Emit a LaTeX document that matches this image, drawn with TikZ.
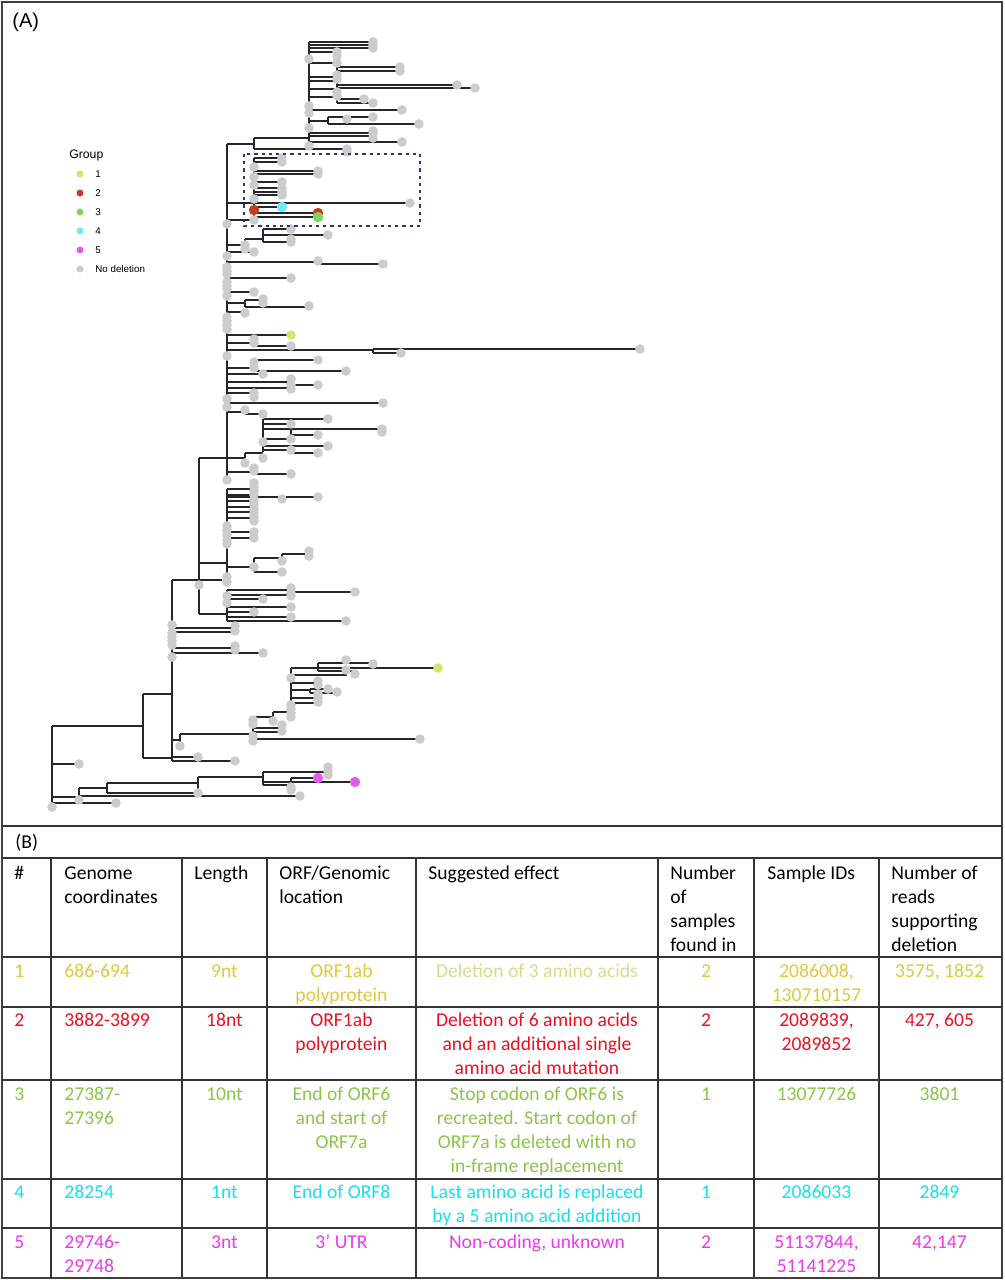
\documentclass[tikz,border=0pt]{standalone}
\usepackage{fontspec}
\setmainfont{Carlito}
\newfontfamily\arialfont{Liberation Sans}
\usetikzlibrary{positioning}

\definecolor{grpone}{RGB}{218,226,110}
\definecolor{grptwo}{RGB}{198,60,35}
\definecolor{grpthree}{RGB}{128,212,92}
\definecolor{grpfour}{RGB}{112,232,246}
\definecolor{grpfive}{RGB}{226,92,236}
\definecolor{nodel}{RGB}{204,204,204}
\definecolor{boxblue}{RGB}{30,58,120}
\definecolor{txtone}{RGB}{222,200,62}
\definecolor{txtonelt}{RGB}{214,220,140}
\definecolor{txttwo}{RGB}{232,18,30}
\definecolor{txtthree}{RGB}{140,196,74}
\definecolor{txtfour}{RGB}{24,222,238}
\definecolor{txtfive}{RGB}{238,56,238}

\newcommand{\tabfont}{\fontsize{9.8pt}{12pt}\selectfont}

\begin{document}
\begin{tikzpicture}[x=0.5pt,y=-0.5pt,
  branch/.style={line width=0.7pt,black!85},
  tipdot/.style={fill=nodel},
  rule/.style={line width=0.75pt,black!80},
  cellL/.style={anchor=base west,inner sep=0pt,align=left,font=\tabfont},
  cellC/.style={anchor=base,inner sep=0pt,align=center,font=\tabfont}]

\useasboundingbox (0,0) rectangle (1005,1280) ;

% panel A : tree
\foreach \y/\a/\b in {42/309/373,45/309/373,48/309/373,52/309/337,63/309/337,77/309/337,81/309/337,89/309/337,97/309/337,
  67/337/400,71/337/400,85/337/457,88/337/475,99/337/364,103/337/373,
  110/309/402,121/309/328,117/328/373,124/328/419,133/309/373,136/309/373,142/309/402,
  138/254/309,149/254/347,144/227/254,
  158/254/282,162/254/282,171/254/318,174/254/318,182/254/282,188/254/282,192/254/282,195/254/282,
  203/227/410,207/254/282,213/254/318,217/254/318,220/227/254,
  239/245/263,229/263/291,235/263/328,242/263/291,245/227/245,252/227/254,262/227/318,264/318/383,
  278/227/291,292/227/254,303/227/245,300/245/263,307/245/309,312/227/245,335/227/291,
  343/227/254,346/254/291,350/227/373,349/373/640,353/373/401,368/227/254,360/254/318,371/254/346,
  374/227/263,382/227/291,385/291/318,388/227/291,393/227/254,403/227/383,412/227/245,414/245/263,
  419/263/328,424/263/291,429/263/382,435/291/318,439/263/291,446/263/328,450/263/291,453/291/318,
  453/245/263,458/199/245,472/227/254,474/254/291,
  489/227/254,495/227/254,497/227/318,501/227/254,507/227/254,512/227/254,518/227/254,532/227/254,
  538/227/254,563/199/227,567/227/254,558/254/282,554/282/309,572/254/282,580/172/222,
  590/227/291,592/291/355,595/227/291,599/227/263,607/227/291,612/227/254,614/199/227,617/227/291,621/227/346,
  628/172/235,632/172/235,648/172/235,653/172/263,694/143/172,740/172/180,734/180/253,717/253/273,712/273/291,
  728/253/282,732/253/282,739/253/420,
  668/291/318,663/318/373,668/318/438,671/318/355,675/291/347,683/291/318,690/291/310,689/310/328,693/310/337,
  698/291/318,703/291/318,
  758/143/172,757/172/198,761/172/235,726/52/143,
  764/52/79,797/52/79,788/79/107,783/107/198,777/198/263,772/263/328,782/263/291,778/291/318,782/291/355,
  785/263/291,793/107/198,796/79/300,803/52/116}
  \draw[branch] (\a,\y) -- (\b,\y) ;

\foreach \x/\a/\b in {309/42/146,337/52/103,328/117/124,254/138/149,227/144/480,254/158/220,245/239/245,
  263/229/242,318/262/264,245/300/307,254/343/346,373/349/353,254/360/371,291/382/385,245/412/414,
  263/419/452,291/429/435,291/450/453,245/453/458,254/472/474,199/458/614,227/489/582,254/558/572,
  282/554/558,227/590/621,172/580/761,143/694/758,180/734/746,253/717/743,273/712/717,291/668/712,
  318/663/671,310/689/693,52/726/807,79/788/800,107/783/793,198/777/797,263/772/785,291/778/782}
  \draw[branch] (\x,\a) -- (\x,\b) ;

\foreach \x/\y in {373/42,373/45,373/48,337/52,337/56,309/59,337/63,400/67,400/71,337/75,337/79,457/85,475/88,
  337/92,337/96,364/99,373/103,309/106,402/110,309/113,373/117,347/119,419/124,309/128,373/131,373/134,
  373/138,402/142,309/146,347/149,347/152,
  282/158,282/162,254/167,318/171,318/174,254/177,282/182,254/185,282/188,282/192,282/195,254/199,
  410/203,254/220,227/224,
  291/229,328/235,291/239,291/242,245/245,245/249,254/252,227/256,318/261,383/264,227/267,227/271,
  227/274,291/278,227/282,227/286,227/289,254/292,227/296,263/299,263/303,309/306,245/313,227/317,
  227/321,227/325,227/329,254/339,254/343,291/346,640/349,401/353,227/356,318/360,254/362,254/368,
  346/371,263/374,291/379,291/385,318/385,291/389,254/393,254/397,227/399,383/403,227/407,245/410,263/414,
  328/419,291/424,382/429,382/432,318/435,291/439,263/442,328/446,291/450,318/453,263/458,245/463,
  254/468,254/471,291/474,227/480,
  254/483,254/487,254/491,254/495,282/499,318/497,254/501,254/505,254/509,254/513,254/517,254/521,
  227/526,227/530,254/532,227/535,254/538,227/540,227/544,
  309/551,309/556,282/561,254/567,282/572,227/577,227/582,199/585,
  291/588,291/593,355/592,227/596,291/596,263/599,227/603,291/607,254/612,291/617,346/621,
  172/625,235/626,235/631,172/633,172/637,172/641,172/645,235/646,235/650,263/653,172/657,
  346/660,373/664,346/670,355/674,291/678,318/681,318/685,328/689,337/692,318/694,318/698,318/702,
  291/705,291/709,291/713,291/717,
  253/720,253/724,273/721,282/725,282/731,253/736,253/741,420/739,180/746,198/757,235/761,
  79/764,328/767,328/771,328/775,291/787,291/790,198/793,300/796,79/800,116/803,52/807}
  \fill[tipdot] (\x,\y) circle (2.4pt) ;

\fill[grpone] (291,335) circle (2.4pt) ;
\fill[grpone] (438,668) circle (2.4pt) ;
\fill[grptwo] (254,210) circle (2.6pt) ;
\fill[grptwo] (318,213) circle (2.6pt) ;
\fill[grpthree] (318,217) circle (2.6pt) ;
\fill[grpfour] (282,207) circle (2.6pt) ;
\fill[grpfive] (318,778) circle (2.6pt) ;
\fill[grpfive] (355,782) circle (2.6pt) ;

\draw[boxblue,line width=1.2pt,dash pattern=on 1.6pt off 2pt] (244,154) rectangle (420,226) ;

% legend
\node[anchor=west,inner sep=0pt,font=\arialfont\fontsize{6.1pt}{7pt}\selectfont] (legtitle) at (69,156) {Group} ;
\foreach \c/\t/\y in {grpone/1/174,grptwo/2/193,grpthree/3/212,grpfour/4/231,grpfive/5/250,nodel/No deletion/269} {
  \fill[\c] (80,\y) circle (1.75pt) ;
  \node[anchor=west,inner sep=0pt,font=\arialfont\fontsize{4.9pt}{6pt}\selectfont] (leg\y) at (95,\y) {\t} ;
}

\node[anchor=base west,inner sep=0pt,font=\arialfont\fontsize{10pt}{12pt}\selectfont] (labA) at (12,27) {(A)} ;

% panel B : table (multi-line cells sit on the baseline of their last line)
\draw[line width=1pt,black!75] (2,2) rectangle (1002,1278) ;
\draw[rule] (2,826) -- (1002,826) ;
\foreach \y in {858,957,1007,1080,1179,1228}
  \draw[rule] (2,\y) -- (1002,\y) ;
\foreach \x in {51,182,267,416,658,754,879}
  \draw[rule] (\x,858) -- (\x,1278) ;

\node[anchor=base west,inner sep=0pt,font=\tabfont] (labB) at (15,848) {(B)} ;

\node[cellL] (h1) at (14,879) {\#} ;
\node[cellL] (h2) at (64,903) {Genome\\coordinates} ;
\node[cellL] (h3) at (194,879) {Length} ;
\node[cellL] (h4) at (279,903) {ORF/Genomic\\location} ;
\node[cellL] (h5) at (428,879) {Suggested effect} ;
\node[cellL] (h6) at (670,951) {Number\\of\\samples\\found in} ;
\node[cellL] (h7) at (767,879) {Sample IDs} ;
\node[cellL] (h8) at (891,951) {Number of\\reads\\supporting\\deletion} ;

% row 1
\node[cellL,txtone] (a1) at (14,977) {1} ;
\node[cellL,txtone] (a2) at (64,977) {686-694} ;
\node[cellC,txtone] (a3) at (224.5,977) {9nt} ;
\node[cellC,txtone] (a4) at (341.5,1001) {ORF1ab\\polyprotein} ;
\node[cellC,txtonelt] (a5) at (537,977) {Deletion of 3 amino acids} ;
\node[cellC,txtone] (a6) at (706,977) {2} ;
\node[cellC,txtone] (a7) at (816.5,1001) {2086008,\\130710157} ;
\node[cellC,txtone] (a8) at (939.5,977) {3575, 1852} ;

% row 2
\node[cellL,txttwo] (b1) at (14,1026.5) {2} ;
\node[cellL,txttwo] (b2) at (64,1026.5) {3882-3899} ;
\node[cellC,txttwo] (b3) at (224.5,1026.5) {18nt} ;
\node[cellC,txttwo] (b4) at (341.5,1050.5) {ORF1ab\\polyprotein} ;
\node[cellC,txttwo] (b5) at (537,1074.5) {Deletion of 6 amino acids\\and an additional single\\amino acid mutation} ;
\node[cellC,txttwo] (b6) at (706,1026.5) {2} ;
\node[cellC,txttwo] (b7) at (816.5,1050.5) {2089839,\\2089852} ;
\node[cellC,txttwo] (b8) at (939.5,1026.5) {427, 605} ;

% row 3
\node[cellL,txtthree] (c1) at (14,1100) {3} ;
\node[cellL,txtthree] (c2) at (64,1124) {27387-\\27396} ;
\node[cellC,txtthree] (c3) at (224.5,1100) {10nt} ;
\node[cellC,txtthree] (c4) at (341.5,1148) {End of ORF6\\and start of\\ORF7a} ;
\node[cellC,txtthree] (c5) at (537,1172) {Stop codon of ORF6 is\\recreated. Start codon of\\ORF7a is deleted with no\\in-frame replacement} ;
\node[cellC,txtthree] (c6) at (706,1100) {1} ;
\node[cellC,txtthree] (c7) at (816.5,1100) {13077726} ;
\node[cellC,txtthree] (c8) at (939.5,1100) {3801} ;

% row 4
\node[cellL,txtfour] (d1) at (14,1198) {4} ;
\node[cellL,txtfour] (d2) at (64,1198) {28254} ;
\node[cellC,txtfour] (d3) at (224.5,1198) {1nt} ;
\node[cellC,txtfour] (d4) at (341.5,1198) {End of ORF8} ;
\node[cellC,txtfour] (d5) at (537,1222) {Last amino acid is replaced\\by a 5 amino acid addition} ;
\node[cellC,txtfour] (d6) at (706,1198) {1} ;
\node[cellC,txtfour] (d7) at (816.5,1198) {2086033} ;
\node[cellC,txtfour] (d8) at (939.5,1198) {2849} ;

% row 5
\node[cellL,txtfive] (e1) at (14,1248) {5} ;
\node[cellL,txtfive] (e2) at (64,1272) {29746-\\29748} ;
\node[cellC,txtfive] (e3) at (224.5,1248) {3nt} ;
\node[cellC,txtfive] (e4) at (341.5,1248) {3’ UTR} ;
\node[cellC,txtfive] (e5) at (537,1248) {Non-coding, unknown} ;
\node[cellC,txtfive] (e6) at (706,1248) {2} ;
\node[cellC,txtfive] (e7) at (816.5,1272) {51137844,\\51141225} ;
\node[cellC,txtfive] (e8) at (939.5,1248) {42,147} ;

\end{tikzpicture}
\end{document}
